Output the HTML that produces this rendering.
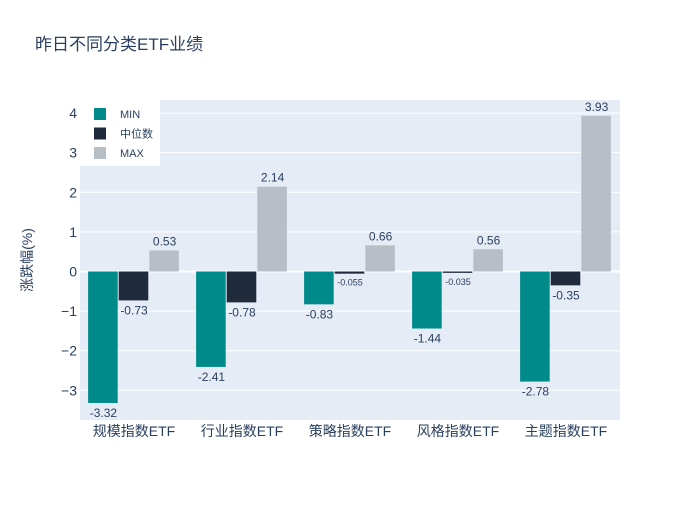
<!DOCTYPE html>
<html><head><meta charset="utf-8">
<style>
body{margin:0;background:#fff;}
svg text{font-family:"Liberation Sans","Noto Sans CJK SC",sans-serif;fill:#2a3f5f;}
</style></head>
<body>
<svg id="chart" width="700" height="500" xmlns="http://www.w3.org/2000/svg">
<rect width="700" height="500" fill="#fff"/>
<text x="35" y="50" font-size="17">昨日不同分类ETF业绩</text>
<rect x="80" y="100" width="540" height="320" fill="#e5ecf6"/>
<g id="grid"></g><g id="bars"></g><g id="labels"></g><g id="axes"></g>
<text transform="translate(32,260) rotate(-90)" text-anchor="middle" font-size="14">涨跌幅(%)</text>
<g id="legend"></g>
</svg>
<script>
const categories=["规模指数ETF","行业指数ETF","策略指数ETF","风格指数ETF","主题指数ETF"];
const seriesNames=["MIN","中位数","MAX"];
const minVals=[-3.32,-2.41,-0.83,-1.44,-2.78];
const medVals=[-0.73,-0.78,-0.055,-0.035,-0.35];
const maxVals=[0.53,2.14,0.66,0.56,3.93];
const yTicks=[-3,-2,-1,0,1,2,3,4];
const colors=["#008b8b","#1f2a3c","#b8bec6"];
const NS="http://www.w3.org/2000/svg";
const X0=80,X1=620,Y0=100,Y1=420,yMin=-3.75,yMax=4.33;
const y=v=>Y1-(v-yMin)/(yMax-yMin)*(Y1-Y0);
const band=(X1-X0)/categories.length;
const xc=i=>X0+band*(i+0.5);
function mk(tag,attrs,parent,txt){const e=document.createElementNS(NS,tag);for(const k in attrs)e.setAttribute(k,attrs[k]);if(txt!==undefined)e.textContent=txt;document.getElementById(parent).appendChild(e);return e;}
yTicks.forEach(t=>{
  const g=mk("line",{x1:X0,x2:X1,y1:y(t),y2:y(t),stroke:"#fff","stroke-width":t===0?2:1},"grid");
  
  
  const l=mk("text",{x:X0-3,y:y(t)+5,"text-anchor":"end","font-size":"14"},"axes",t<0?"−"+Math.abs(t):String(t));
  
  
});
const series=[minVals,medVals,maxVals];
const bw=band*0.85/3;
categories.forEach((c,i)=>{
  const l=mk("text",{x:xc(i),y:436,"text-anchor":"middle","font-size":"14"},"axes",c);
  
  
  series.forEach((s,k)=>{
    const v=s[i];const x=xc(i)-band*0.85/2+k*bw;
    const top=Math.min(y(v),y(0)),h=Math.abs(y(v)-y(0));
    const r=mk("rect",{x:x,y:top,width:bw-1,height:h,fill:colors[k]},"bars");
    
    
    const small=Math.abs(v)<0.1;
    const ty=v>=0?y(v)-5:y(v)+(small?12:14);
    const t=mk("text",{x:x+bw/2,y:ty,"text-anchor":"middle","font-size":small?"9":"12"},"labels",String(v));
    
    
  });
});
mk("rect",{x:80,y:100,width:80,height:66,fill:"#fff"},"legend");
seriesNames.forEach((n,k)=>{
  const ly=114+k*19.5;
  const r=mk("rect",{x:94,y:ly-6,width:12,height:12,fill:colors[k]},"legend");
  
  
  const t=mk("text",{x:120,y:ly+4,"font-size":"11"},"legend",n);
  
  
});
</script>
</body></html>
